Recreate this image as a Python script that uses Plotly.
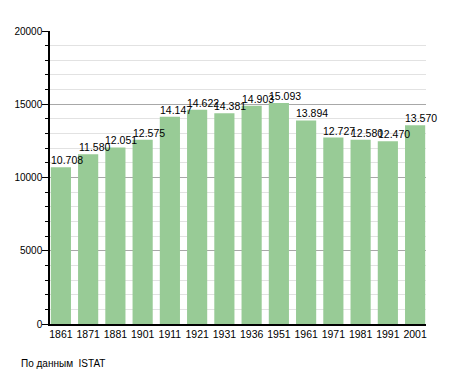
import plotly.graph_objects as go

years = ["1861", "1871", "1881", "1901", "1911", "1921", "1931", "1936", "1951", "1961", "1971", "1981", "1991", "2001"]
population = [10708, 11580, 12051, 12575, 14147, 14622, 14381, 14903, 15093, 13894, 12727, 12580, 12470, 13570]
value_labels = ["10.708", "11.580", "12.051", "12.575", "14.147", "14.622", "14.381", "14.903", "15.093", "13.894", "12.727", "12.580", "12.470", "13.570"]
y_ticks = [0, 5000, 10000, 15000, 20000]
y_tick_text = ["0", "5000", "10000", "15000", "20000"]
source_text = "По данным  ISTAT"

FONT = "Liberation Sans, Arial, sans-serif"

# page body has an 8px margin: figure is shrunk so the plot lands where the reference has it
W, H = 447, 365
ML, MR, MT, MB = 42, 29, 23, 49
PW, PH = W - ML - MR, H - MT - MB

fig = go.Figure()
fig.add_trace(go.Bar(
    x=list(range(len(years))), y=population,
    marker=dict(color="#98cb96", line=dict(width=0)),
    width=0.74,
    hoverinfo="skip",
))

for i, (v, lab) in enumerate(zip(population, value_labels)):
    fig.add_annotation(x=i, y=v, text=lab, showarrow=False, yanchor="bottom",
                       xanchor="center", xshift=6, yshift=-1,
                       font=dict(family=FONT, size=10.5, color="black"))

fig.add_annotation(xref="paper", yref="paper", x=-31 / PW, y=-39 / PH,
                   text=source_text, showarrow=False, xanchor="left", yanchor="middle",
                   font=dict(family=FONT, size=10, color="black"))

fig.update_layout(
    width=W, height=H,
    margin=dict(l=ML, r=MR, t=MT, b=MB, autoexpand=False),
    paper_bgcolor="white", plot_bgcolor="white",
    showlegend=False,
    font=dict(family=FONT, size=10.5, color="black"),
)
fig.update_xaxes(
    tickmode="array", tickvals=list(range(len(years))), ticktext=years,
    range=[-0.4, 13.4], showline=True, linecolor="black", linewidth=1.5,
    ticks="", showgrid=False, zeroline=False, automargin=False,
    tickfont=dict(family=FONT, size=10.5, color="black"),
)
fig.update_yaxes(
    range=[0, 20000], tickmode="array", tickvals=y_ticks, ticktext=y_tick_text,
    showline=True, linecolor="black", linewidth=1.5,
    showgrid=True, gridcolor="#a8a8a8", gridwidth=1,
    ticks="outside", ticklen=6, tickcolor="black", ticklabelstandoff=-2,
    zeroline=False, automargin=False,
    tickfont=dict(family=FONT, size=10, color="black"),
    minor=dict(dtick=1000, showgrid=True, gridcolor="#e2e2e2", gridwidth=1,
               ticks="outside", ticklen=3, tickcolor="black"),
)

fig.write_html("out.html")
